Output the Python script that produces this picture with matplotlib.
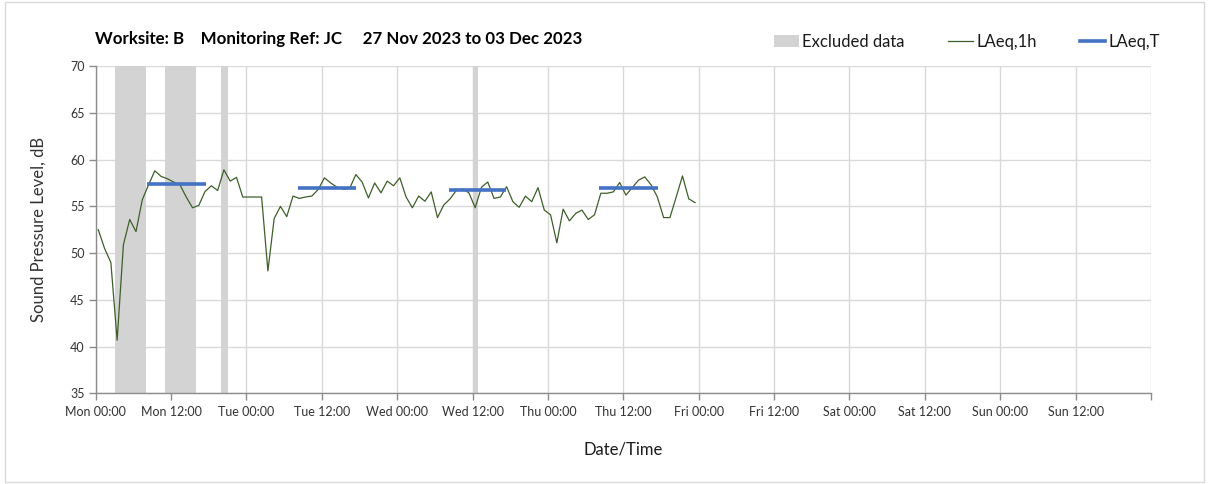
import numpy as np
import pandas as pd
import matplotlib
matplotlib.use("Agg")
import matplotlib.pyplot as plt
from matplotlib.patches import Patch, Rectangle
from matplotlib.lines import Line2D

plt.rcParams['font.family'] = ['Lato', 'DejaVu Sans']

# ---- data ----
title_text = "Worksite: B    Monitoring Ref: JC     27 Nov 2023 to 03 Dec 2023"
first_sample = "2023-11-27 00:25"
laeq_1h = [52.5, 50.5, 49.0, 40.7, 50.9, 53.6, 52.3, 55.7, 57.3, 58.8,
           58.2, 57.95, 57.6, 57.3, 56.0, 54.85, 55.1, 56.6, 57.2, 56.7,
           58.9, 57.7, 58.1, 56.0, 56.0, 56.0, 56.0, 48.1, 53.7, 55.0,
           53.9, 56.1, 55.85, 56.0, 56.1, 56.8, 58.05, 57.5, 57.05, 56.85,
           56.9, 58.4, 57.6, 55.9, 57.5, 56.45, 57.7, 57.2, 58.05, 56.0,
           54.85, 56.1, 55.55, 56.55, 53.8, 55.15, 55.8, 56.7, 56.85, 56.45,
           54.85, 57.05, 57.6, 55.85, 56.0, 57.1, 55.5, 54.9, 56.1, 55.5,
           57.0, 54.6, 54.1, 51.1, 54.7, 53.45, 54.25, 54.6, 53.6, 54.1,
           56.4, 56.4, 56.55, 57.55, 56.2, 57.0, 57.8, 58.15, 57.3, 56.0,
           53.8, 53.8, 56.0, 58.25, 55.8, 55.4]
excluded_start = ["2023-11-27 03:00", "2023-11-27 11:00", "2023-11-27 20:00", "2023-11-29 12:00"]
excluded_end = ["2023-11-27 08:00", "2023-11-27 16:00", "2023-11-27 21:00", "2023-11-29 12:50"]
laeqT_start = ["2023-11-27 08:15", "2023-11-28 08:15", "2023-11-29 08:15", "2023-11-30 08:10"]
laeqT_end = ["2023-11-27 17:35", "2023-11-28 17:25", "2023-11-29 17:20", "2023-11-30 17:30"]
laeqT_value = [57.4, 57.0, 56.7, 57.0]
x_start = "2023-11-27 00:00"
x_end = "2023-12-04 00:00"

times = pd.date_range(first_sample, periods=len(laeq_1h), freq="h")

fig = plt.figure(figsize=(12.08, 4.84), dpi=100)
ax = fig.add_axes([0.0792, 0.187, 0.9528 - 0.0792, 0.8636 - 0.187])

band_color = "#d3d3d3"
for s, e in zip(excluded_start, excluded_end):
    ax.axvspan(pd.Timestamp(s), pd.Timestamp(e), color=band_color, lw=0, zorder=1)

ax.plot(times, laeq_1h, color="#3f5f2a", lw=0.9, zorder=3)
for s, e, v in zip(laeqT_start, laeqT_end, laeqT_value):
    ax.plot([pd.Timestamp(s), pd.Timestamp(e)], [v, v], color="#4472c4", lw=2.6,
            solid_capstyle="butt", zorder=4)

ax.set_xlim(pd.Timestamp(x_start), pd.Timestamp(x_end))
ax.set_ylim(35, 70)
ax.set_yticks(np.arange(35, 71, 5))
ticks = pd.date_range(x_start, x_end, freq="12h")
ax.set_xticks(ticks)
ax.set_xticklabels([t.strftime("%a %H:%M") for t in ticks[:-1]] + [""])

grid_c = "#d9d9d9"
ax.grid(True, color=grid_c, lw=1.0, zorder=0)
ax.set_axisbelow(True)
for sp in ["top", "right"]:
    ax.spines[sp].set_visible(False)
for sp in ["left", "bottom"]:
    ax.spines[sp].set_color("#8c8c8c")
    ax.spines[sp].set_linewidth(1.0)
ax.tick_params(axis="both", colors="#8c8c8c", length=5, width=1.0,
               labelsize=9, labelcolor="#333333")
ax.tick_params(axis="x", pad=4)
ax.tick_params(axis="y", pad=3)

ax.set_ylabel("Sound Pressure Level, dB", fontsize=12, color="#333333", labelpad=17)
ax.set_xlabel("Date/Time", fontsize=12, color="#1a1a1a", labelpad=17)

fig.text(0.0785, 0.92, title_text, fontsize=12.2, fontweight="bold", color="#000000",
         ha="left", va="center")

handles = [Patch(facecolor=band_color, edgecolor="none"),
           Line2D([], [], color="#3f5f2a", lw=0.9),
           Line2D([], [], color="#4472c4", lw=2.6)]
labels = ["Excluded data", "LAeq,1h", "LAeq,T"]
fig.legend(handles, labels, loc="center", bbox_to_anchor=(0.8007, 0.913), ncol=3,
           frameon=False, fontsize=12, handlelength=1.5, handletextpad=0.2,
           columnspacing=2.6, labelcolor="#1a1a1a")

fig.patches.append(Rectangle((0.004, 0.004), 0.993, 0.992, transform=fig.transFigure,
                             fill=False, edgecolor="#d9d9d9", lw=1.0))

fig.savefig("out.png", dpi=100)
